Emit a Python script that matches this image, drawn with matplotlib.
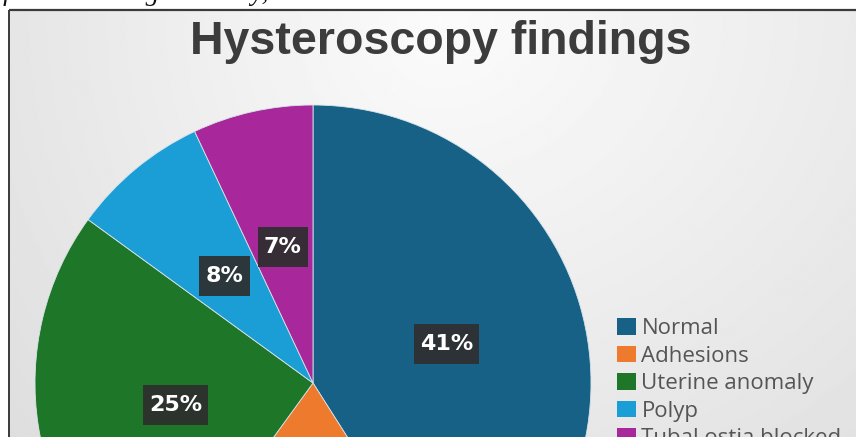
import numpy as np
import matplotlib.pyplot as plt
from matplotlib.patches import Patch

# Hysteroscopy findings (share of patients, %)
categories = ["Normal", "Adhesions", "Uterine anomaly", "Polyp", "Tubal ostia blocked"]
shares = [41, 19, 25, 8, 7]
colors = ["#176187", "#EE7A2E", "#1E7628", "#1B9ED6", "#A8279A"]

W, H = 856, 437
fig = plt.figure(figsize=(W / 100, H / 100), dpi=100)
ax = fig.add_axes([0, 0, 1, 1])

# pixel-like coordinates, y pointing up
fx0, fy1 = 9, H - 10

# light grey radial gradient behind the chart, brightest under the title
ny, nx = 220, 430
py, px = np.mgrid[10:H:ny * 1j, fx0:W:nx * 1j]
dx = px - 440
dx = np.where(dx < 0, dx / 500, dx / 650)
dy = (py - 20) / 550
shade = 0.985 - 0.10 * np.sqrt(dx ** 2 + dy ** 2)
ax.imshow(shade, cmap="gray", vmin=0, vmax=1, extent=(fx0, W, 0, fy1),
          origin="upper", aspect="auto", zorder=0, interpolation="bilinear")

# frame of the chart panel
ax.plot([fx0, W], [fy1, fy1], color="#3a3a3a", lw=1.6, zorder=1, solid_capstyle="butt")
ax.plot([fx0, fx0], [0, fy1], color="#3a3a3a", lw=1.4, zorder=1, solid_capstyle="butt")

wedges, texts, autotexts = ax.pie(
    shares, colors=colors, startangle=90, counterclock=False,
    center=(313, H - 383), radius=278, frame=True,
    autopct="%d%%", pctdistance=0.5,
    wedgeprops=dict(edgecolor="#d8e4ea", linewidth=0.6),
    textprops=dict(color="white", fontsize=16, fontweight="bold",
                   family="DejaVu Sans"))
for t in autotexts:
    t.set_bbox(dict(boxstyle="square,pad=0.28", facecolor="#2e2e2e",
                    edgecolor="none", alpha=0.92, mutation_aspect=1.6))
for w in wedges:
    w.set_zorder(2)

ax.set_xlim(0, W)
ax.set_ylim(0, H)
ax.set_aspect("equal")
ax.axis("off")

ax.text(441, H - 54, "Hysteroscopy findings", ha="center", va="baseline",
        fontsize=33.5, fontweight="bold", family="Liberation Sans",
        color="#3c3c3c", zorder=3)

# trailing line of the surrounding text
ax.text(268, H - 0.5, "was performed during the study,", ha="right",
        va="baseline", fontsize=19.5, style="italic",
        family="Liberation Serif", color="#111111", zorder=3)

handles = [Patch(facecolor=c, edgecolor="none") for c in colors]
leg = ax.legend(handles, categories, loc="upper left",
                bbox_to_anchor=(617 / W, 1 - 318 / H), frameon=False,
                handlelength=0.85, handleheight=0.78,
                handletextpad=0.25, labelspacing=0.29, borderpad=0,
                borderaxespad=0, prop=dict(family="Open Sans", size=16))
for t in leg.get_texts():
    t.set_color("#555555")

fig.savefig("out.png", dpi=100)
